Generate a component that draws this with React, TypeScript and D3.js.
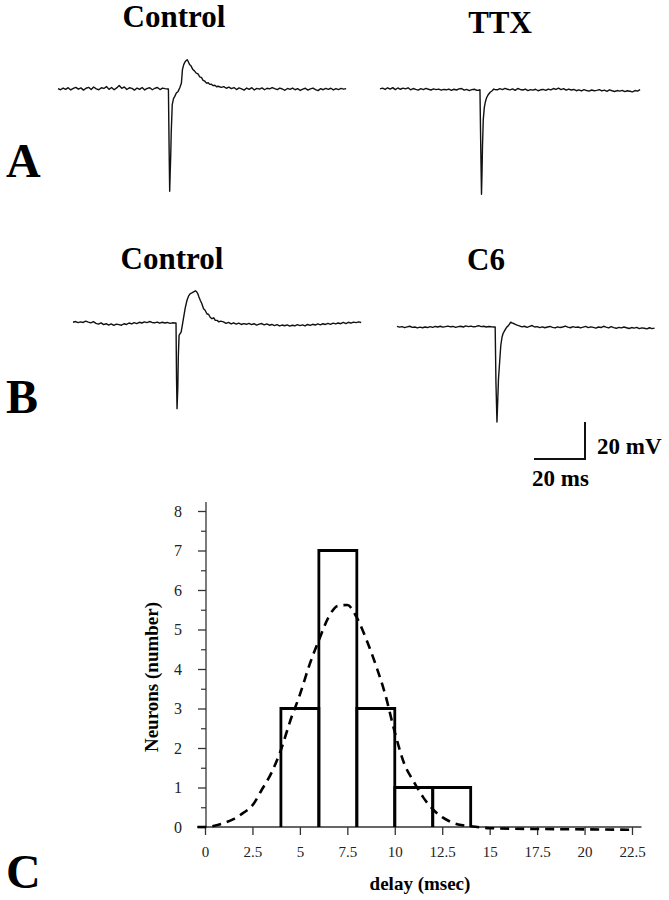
import React, { useEffect, useRef } from 'react';
import * as d3 from 'd3';

const width = 669;
const height = 900;
const font = '"Liberation Serif", "Times New Roman", serif';

// ---- voltage traces (ms, mV relative to baseline) ----
// each trace: noise before the stimulus (1 ms steps from t=0), the spike, noise after
const preCtrlA = [0.2, -0.4, 0.5, -0.2, 0.7, -0.5, 0.3, 0.9, -0.1, 0.6,
  -0.6, 0.4, 0.9, -0.3, 1.1, 0.1, -0.4, 0.7, 0.3, 1.3,
  -0.2, 0.8, -0.4, 0.6, 1.9, 0.4, 1.1, -0.3, 0.7, 0.3,
  -0.6, 0.5, -0.2, 0.8, -0.5, 0.3, 0.7, -0.4, 0.4, 0.8,
  -0.3, 0.5, 0.2, 0.0];
const spikeCtrlA = [[43.3, 0], [43.6, -35], [43.8, -55.3], [44.0, -45], [44.2, -36.4], [44.4, -23.8],
  [44.8, -8.5], [45.3, -5.2], [45.8, -4], [46.4, -2.2], [47.1, -1.3], [47.8, 0.8], [48.4, 3.2],
  [48.8, 10.5], [49.3, 13.2], [49.8, 14.6], [50.3, 15.5], [50.7, 15.8], [51, 15], [51.6, 13.2],
  [52.2, 12.4], [52.9, 10.5], [53.5, 9.8], [54.2, 8.6], [54.9, 8.2], [55.6, 6.5], [56.3, 6.1],
  [56.9, 4.7], [57.6, 4.2], [58.2, 3.2], [58.9, 3.4], [59.5, 2.5], [60.2, 2.6], [60.8, 1.8],
  [61.5, 2.0], [62.2, 1.2], [62.8, 1.5]];
const postCtrlA = [0.9, 1.3, 0.4, 1.0, 0.2, 0.8, -0.3, 0.6, 0.1, -0.6,
  0.5, -0.2, 0.7, -0.5, 0.3, -0.1, 0.6, -0.4, 0.4, 0.1,
  0.8, 0.2, -0.3, 0.5, 0.0, -0.7, 0.3, -0.2, 0.5, -0.4,
  0.2, -0.8, -0.1, 0.4, -0.6, 0.1, 0.5, -0.3, -0.9, 0.2,
  -0.4, 0.3, -0.2, 0.4, -0.5, 0.2, -0.3, 0.3, -0.1, 0.2];

const preTTX = [0.6, 1.0, 0.3, 1.2, 0.5, 1.3, 0.2, 1.1, 0.4, 1.0,
  0.6, 1.2, 0.1, 0.8, 0.3, -0.1, 0.7, 0.2, 0.9, 0.4,
  0.0, 0.6, 0.2, 0.5, -0.1, 0.3, 0.1, 0.5, -0.2, 0.4,
  0.0, 0.6, 0.8, -0.1, 0.3, -0.3, 0.2, 0.4, -0.2, 0.0];
const spikeTTX = [[39.2, 0.2], [39.5, -30], [39.8, -56.4], [40.0, -45], [40.2, -30], [40.5, -16],
  [40.9, -9.5], [41.3, -6.5], [41.8, -4.2], [42.5, -2.4], [43.2, -1.2], [44, -0.4], [44.6, 0.5]];
const postTTX = [0.3, 0.1, 0.7, 0.2, 0.9, 0.4, 0.1, 0.6, -0.2, 0.8,
  0.3, 0.0, 0.5, -0.3, 0.2, -0.1, 0.4, -0.4, 0.1, 0.3,
  -0.2, 0.5, 0.1, 0.8, 0.3, 1.0, 0.2, 0.7, -0.1, 0.5,
  0.0, 0.3, -0.4, 0.1, -0.5, 0.2, -0.3, -0.6, 0.0, -0.4,
  -0.2, 0.2, -0.5, -0.1, -0.7, 0.1, -0.4, -0.8, -0.3, -0.6,
  -0.2, -0.9, -0.4, -0.7, -1.0, -0.3, -0.6, 0.2];

const preCtrlB = [0.4, 0.8, 0.2, 0.6, 0.3, 1.0, 0.5, 0.1, 0.7, -0.2,
  -0.6, 0.1, -0.9, -0.4, -1.1, -0.5, -1.3, -0.6, -0.9, -1.2,
  -0.4, -0.8, 0.0, -0.5, 0.2, -0.3, 0.4, 0.0, 0.6, 0.2,
  0.8, 0.3, 0.1, 0.5, -0.1, 0.4, 0.0, 0.3, -0.2, 0.1, 0.0];
const spikeCtrlB = [[40.4, 0], [40.6, -30], [40.8, -46.3], [41.1, -35], [41.3, -18], [41.6, -6.7],
  [42.0, -5.8], [42.4, -4.9], [42.9, -1], [43.4, 3.2], [44, 8], [44.7, 12.3], [45.3, 14.5],
  [46, 15.9], [46.6, 16.3], [47.3, 16.8], [48, 17.4], [48.5, 16.9], [48.9, 15.9], [49.4, 14],
  [49.9, 12.3], [50.5, 10.5], [51.2, 7.7], [51.8, 6.9], [52.5, 5], [53.2, 4.6], [53.8, 3.1],
  [54.5, 2.3], [55.2, 2.8], [55.8, 1.4], [56.5, 1.4], [57.2, 0.6], [57.9, 1.0]];
const postCtrlB = [0.6, -0.2, 0.3, -0.5, 0.1, -0.6, -0.1, -0.8, -0.3, -0.7,
  -0.2, -0.9, -0.4, -1.1, -0.6, -0.3, -1.0, -0.5, -1.2, -0.8,
  -1.4, -0.9, -1.6, -1.1, -1.5, -1.0, -1.7, -1.2, -1.5, -0.9,
  -1.4, -1.0, -1.6, -0.8, -1.3, -0.7, -1.1, -0.5, -1.0, -0.4,
  -0.8, -0.2, -0.7, -0.1, -0.5, 0.0, -0.4, 0.3, -0.3, 0.4,
  -0.1, 0.5, 0.2, 0.6, 0.3];

const preC6 = [0.3, -0.1, 0.2, -0.3, 0.1, 0.4, -0.2, 0.0, -0.5, -0.1,
  -0.4, 0.0, -0.3, 0.2, -0.2, 0.3, 0.0, 0.4, -0.1, 0.2,
  0.5, 0.1, 0.3, -0.2, 0.2, 0.4, 0.0, 0.6, 0.2, 0.5,
  0.1, 0.3, 0.7, 0.2, 0.4, 0.0, 0.3, 0.1, 0.0];
const spikeC6 = [[38.5, 0], [38.8, -30], [39.2, -51.4], [39.5, -40], [39.8, -28], [40.3, -18],
  [40.7, -10], [41.2, -5.4], [41.6, -3.5], [42.1, -2.2], [42.6, -1], [43.1, 0], [43.6, 0.6],
  [44.1, 1.6], [44.6, 2.6], [45.1, 2.2], [45.7, 1.9], [46.4, 1.4], [47.1, 1.0]];
const postC6 = [0.6, 0.1, 0.4, -0.2, 0.3, 0.8, 0.0, 0.2, -0.3, 0.1,
  -0.4, 0.0, 0.3, -0.2, -0.5, 0.1, -0.3, 0.0, 0.5, -0.1,
  -0.4, 0.2, -0.2, 0.0, -0.5, -0.1, 0.3, -0.3, 0.1, -0.2,
  -0.6, 0.0, -0.3, 0.4, -0.1, -0.5, 0.2, -0.3, -0.7, -0.2,
  -0.5, 0.0, -0.4, -0.8, -0.3, -0.6, -0.2, -0.9, -0.5, -0.7,
  -1.0, -0.4, -0.9, -0.6];

// ---- histogram (panel C) ----
const binStarts = [4, 6, 8, 10, 12];
const binCounts = [3, 7, 3, 1, 1];
const binWidth = 2;
const fitDelay = [-0.4, 0, 0.5, 1, 1.5, 2, 2.5, 3, 3.5, 4, 4.5, 5, 5.5, 6, 6.5, 7, 7.5, 8, 8.5, 9, 9.5,
  10, 10.5, 11, 11.5, 12, 12.5, 13, 13.5, 14, 15, 17.5, 20, 22.5];
const fitCount = [0, 0, 0.03, 0.1, 0.2, 0.35, 0.55, 0.95, 1.37, 1.95, 2.7, 3.35, 4.1, 4.73, 5.3, 5.6, 5.62,
  5.3, 4.75, 4.1, 3.35, 2.4, 1.6, 1.15, 0.75, 0.45, 0.25, 0.12, 0.05, 0.02, -0.03, -0.05, -0.06, -0.07];
const xTicks = [0, 2.5, 5, 7.5, 10, 12.5, 15, 17.5, 20, 22.5];
const yTicks = [0, 1, 2, 3, 4, 5, 6, 7, 8];

// 20 ms and 20 mV scale bar sizes in pixels
const barMs = 20, barMv = 20, barPxMs = 51, barPxMv = 37;

function App() {
  const ref = useRef(null);

  useEffect(() => {
    const svg = d3.select(ref.current);
    svg.selectAll('*').remove();

    const panels = [
      { title: 'Control', tx: 174, ty: 27, x0: 58, y0: 89, pre: preCtrlA, spike: spikeCtrlA, post: postCtrlA, postStart: 64 },
      { title: 'TTX', tx: 500, ty: 33, x0: 380, y0: 90, pre: preTTX, spike: spikeTTX, post: postTTX, postStart: 45 },
      { title: 'Control', tx: 172, ty: 269, x0: 73, y0: 323, pre: preCtrlB, spike: spikeCtrlB, post: postCtrlB, postStart: 59 },
      { title: 'C6', tx: 486, ty: 270, x0: 397, y0: 327, pre: preC6, spike: spikeC6, post: postC6, postStart: 48 },
    ];

    panels.forEach(p => {
      const x = d3.scaleLinear().domain([0, barMs]).range([p.x0, p.x0 + barPxMs]);
      const y = d3.scaleLinear().domain([0, barMv]).range([p.y0, p.y0 - barPxMv]);
      const pts = [
        ...p.pre.map((v, i) => [i, v]),
        ...p.spike,
        ...p.post.map((v, i) => [p.postStart + i, v]),
      ];
      svg.append('path')
        .attr('fill', 'none')
        .attr('stroke', '#111')
        .attr('stroke-width', 1.4)
        .attr('stroke-linejoin', 'round')
        .attr('d', d3.line().x(d => x(d[0])).y(d => y(d[1]))(pts));
      svg.append('text')
        .attr('x', p.tx).attr('y', p.ty)
        .attr('text-anchor', 'middle')
        .attr('font-family', font).attr('font-weight', 'bold').attr('font-size', 31)
        .text(p.title);
    });

    // panel letters
    [['A', 177], ['B', 413], ['C', 888]].forEach(([l, yy]) => {
      svg.append('text')
        .attr('x', 6).attr('y', yy)
        .attr('font-family', font).attr('font-weight', 'bold').attr('font-size', 48)
        .text(l);
    });

    // scale bar
    const sx = d3.scaleLinear().domain([-barMs, 0]).range([585 - barPxMs, 585]);
    const sy = d3.scaleLinear().domain([0, barMv]).range([459, 459 - barPxMv]);
    svg.append('path')
      .attr('fill', 'none').attr('stroke', '#111').attr('stroke-width', 2)
      .attr('d', `M${sx(-barMs)},${sy(0)}H${sx(0)}V${sy(barMv)}`);
    svg.append('text').attr('x', 597).attr('y', 454)
      .attr('font-family', font).attr('font-weight', 'bold').attr('font-size', 23)
      .text('20 mV');
    svg.append('text').attr('x', 532).attr('y', 486)
      .attr('font-family', font).attr('font-weight', 'bold').attr('font-size', 23)
      .text('20 ms');

    // ---- histogram ----
    const x = d3.scaleLinear().domain([0, 22.5]).range([205, 632]);
    const y = d3.scaleLinear().domain([0, 8]).range([827, 511]);

    const xAxis = svg.append('g')
      .attr('transform', `translate(0,${y(0)})`)
      .call(d3.axisBottom(x).tickValues(xTicks).tickSize(8).tickPadding(11).tickFormat(d => String(d)))
      .call(g => g.select('.domain').remove());
    xAxis.append('line')
      .attr('x1', x(-0.4)).attr('x2', x(23))
      .attr('stroke', '#333').attr('stroke-width', 1.3);
    xAxis.selectAll('.tick line').attr('stroke', '#333').attr('stroke-width', 1.3);
    xAxis.selectAll('text').attr('font-family', font).attr('font-size', 15).attr('fill', '#222');

    svg.append('g')
      .attr('transform', `translate(${x(0) + 1},0)`)
      .call(d3.axisLeft(y).tickValues(d3.range(0.5, 8, 1)).tickSize(5).tickFormat(() => ''))
      .call(g => g.select('.domain').remove())
      .selectAll('.tick line').attr('stroke', '#333').attr('stroke-width', 1.2);

    const yAxis = svg.append('g')
      .attr('transform', `translate(${x(0) + 1},0)`)
      .call(d3.axisLeft(y).tickValues(yTicks).tickSize(8).tickPadding(16).tickFormat(d => String(d)))
      .call(g => g.select('.domain').remove());
    yAxis.append('line')
      .attr('y1', y(0)).attr('y2', y(8.23))
      .attr('stroke', '#333').attr('stroke-width', 1.3);
    yAxis.selectAll('.tick line').attr('stroke', '#333').attr('stroke-width', 1.3);
    yAxis.selectAll('text').attr('font-family', font).attr('font-size', 16).attr('fill', '#222');

    // bars (open boxes, no bottom edge)
    svg.append('g')
      .selectAll('path')
      .data(binStarts.map((s, i) => ({ s, c: binCounts[i] })))
      .join('path')
      .attr('fill', 'none')
      .attr('stroke', '#000')
      .attr('stroke-width', 2.8)
      .attr('d', d => `M${x(d.s)},${y(0)}V${y(d.c)}H${x(d.s + binWidth)}V${y(0)}`);

    // fitted curve
    svg.append('path')
      .attr('fill', 'none')
      .attr('stroke', '#000')
      .attr('stroke-width', 2.6)
      .attr('stroke-dasharray', '9,6')
      .attr('d', d3.line()
        .x((d, i) => x(fitDelay[i]))
        .y(d => y(d))
        .curve(d3.curveMonotoneX)(fitCount));

    svg.append('text')
      .attr('transform', `translate(158,677) rotate(-90)`)
      .attr('text-anchor', 'middle')
      .attr('font-family', font).attr('font-weight', 'bold').attr('font-size', 19)
      .text('Neurons (number)');

    svg.append('text')
      .attr('x', 420).attr('y', 890)
      .attr('text-anchor', 'middle')
      .attr('font-family', font).attr('font-weight', 'bold').attr('font-size', 19)
      .text('delay (msec)');
  }, []);

  return (
    <svg ref={ref} width={width} height={height}
      style={{ position: 'absolute', left: 0, top: 0, background: '#fff' }} />
  );
}

export default App;
